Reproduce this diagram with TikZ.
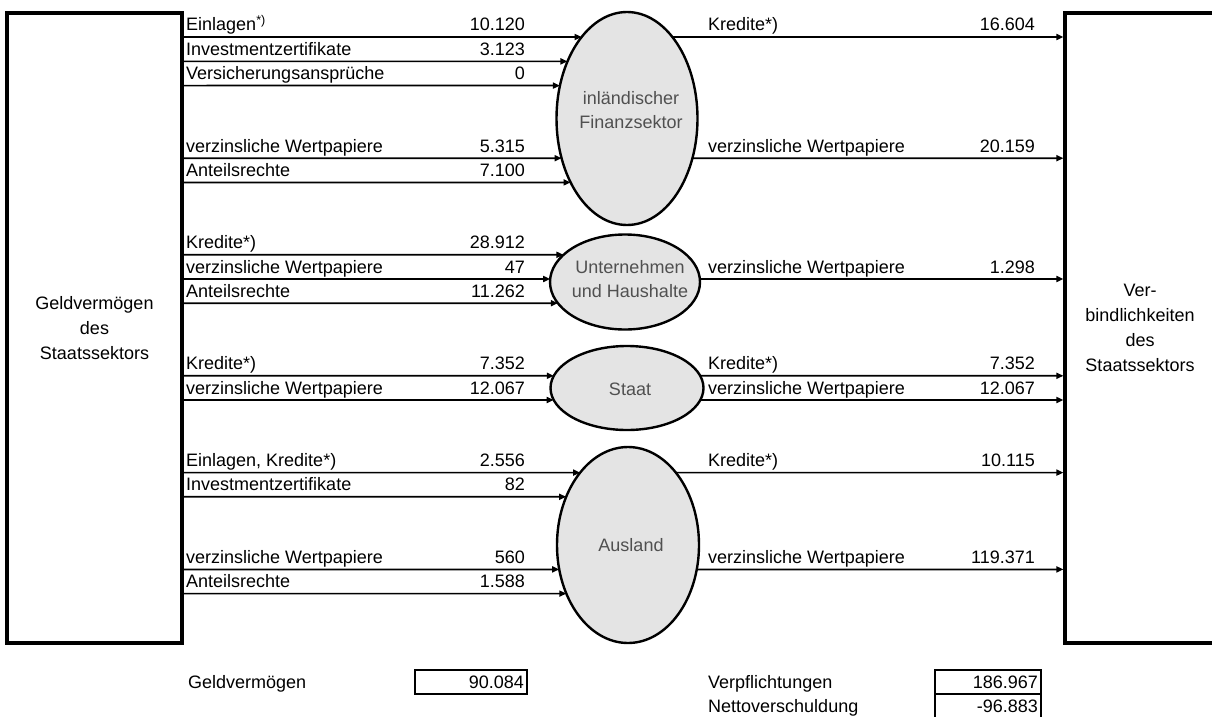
\documentclass[tikz,border=0pt]{standalone}
\usepackage{fontspec}
\setmainfont{Liberation Sans}
\usetikzlibrary{shapes.geometric}
\usetikzlibrary{arrows.meta}
\usetikzlibrary{intersections}

\definecolor{sectorfill}{RGB}{228,228,228}
\definecolor{sectortext}{RGB}{80,80,80}

\begin{document}
\begin{tikzpicture}[x=1pt,y=-1pt,
  flow/.style={line width=1.7pt,-{Triangle[length=7pt,width=6pt]}},
  flowtext/.style={font=\fontsize{18}{22}\selectfont,inner sep=0pt},
  sidebox/.style={draw,line width=3.2pt,minimum width=175pt,minimum height=630pt,align=center,font=\fontsize{18}{25}\selectfont},
  sector/.style={ellipse,draw,line width=2.4pt,fill=sectorfill,inner sep=0pt},
  sectorlabel/.style={text=sectortext,align=center,inner sep=0pt,font=\fontsize{18}{24}\selectfont},
  sumbox/.style={draw,line width=2.8pt,minimum height=24pt,inner ysep=0pt,inner xsep=3pt,align=right,font=\fontsize{18}{22}\selectfont}]
\useasboundingbox (0,0) rectangle (1212,717);
\clip (0,0) rectangle (1212,717);

\node[sidebox] (geld) at (94.5,328) {Geldvermögen\\des\\Staatssektors};
\node[sidebox,minimum width=150pt] (verb) at (1140,328) {Ver-\\bindlichkeiten\\des\\Staatssektors};

\node[sector,name path global=fin,minimum width=141pt,minimum height=213pt] (fin) at (627,118.5) {};
\node[sector,name path global=unt,minimum width=150pt,minimum height=95pt] (unt) at (625,282) {};
\node[sector,name path global=staat,minimum width=153pt,minimum height=84pt] (staat) at (627,388) {};
\node[sector,name path global=ausl,minimum width=142pt,minimum height=196pt] (ausl) at (628,545) {};
\node[sectorlabel] (fintext) at (631,110) {inländischer\\Finanzsektor};
\node[sectorlabel] (unttext) at (630,279) {Unternehmen\\und Haushalte};
\node[sectorlabel] (staattext) at (630,389) {Staat};
\node[sectorlabel] (ausltext) at (631,545) {Ausland};

\foreach \ly/\tgt/\txt/\val [count=\i] in {
  37/fin/{Einlagen\textsuperscript{*)}}/10.120,
  61.4/fin/Investmentzertifikate/3.123,
  85.6/fin/Versicherungsansprüche/0,
  158.2/fin/{verzinsliche Wertpapiere}/5.315,
  182.4/fin/Anteilsrechte/7.100,
  254.8/unt/Kredite*)/28.912,
  279/unt/{verzinsliche Wertpapiere}/47,
  303.2/unt/Anteilsrechte/11.262,
  375.8/staat/Kredite*)/7.352,
  400/staat/{verzinsliche Wertpapiere}/12.067,
  472.6/ausl/{Einlagen, Kredite*)}/2.556,
  496.8/ausl/Investmentzertifikate/82,
  569.4/ausl/{verzinsliche Wertpapiere}/560,
  593.6/ausl/Anteilsrechte/1.588}{
  \coordinate (in\i) at (geld.east |- 0,\ly);
  \path[name path=ray] (in\i) -- ++(600,0);
  \draw[flow,name intersections={of=ray and \tgt,sort by=ray}] (in\i) -- (intersection-1);
  \node[flowtext,anchor=base west] (inlbl\i) at (186,\ly-6) {\txt};
  \node[flowtext,anchor=base east] (inval\i) at (525,\ly-6) {\val};
}

\foreach \ly/\src/\txt/\val [count=\i] in {
  37/fin/Kredite*)/16.604,
  158.2/fin/{verzinsliche Wertpapiere}/20.159,
  279/unt/{verzinsliche Wertpapiere}/1.298,
  375.8/staat/Kredite*)/7.352,
  400/staat/{verzinsliche Wertpapiere}/12.067,
  472.6/ausl/Kredite*)/10.115,
  569.4/ausl/{verzinsliche Wertpapiere}/119.371}{
  \coordinate (out\i) at (verb.west |- 0,\ly);
  \path[name path=ray] (out\i) -- ++(-600,0);
  \draw[flow,name intersections={of=ray and \src,sort by=ray}] (intersection-1) -- (out\i);
  \node[flowtext,anchor=base west] (outlbl\i) at (708,\ly-6) {\txt};
  \node[flowtext,anchor=base east] (outval\i) at (1035,\ly-6) {\val};
}

\node[flowtext,anchor=base west] (gvlbl) at (188,688) {Geldvermögen};
\node[sumbox,text width=106pt] (gvval) at (471,682) {90.084};
\node[flowtext,anchor=base west] (vplbl) at (708,688) {Verpflichtungen};
\node[sumbox,text width=100pt] (vpval) at (988,682) {186.967};
\node[flowtext,anchor=base west] (nvlbl) at (708,712) {Nettoverschuldung};
\node[sumbox,text width=100pt] (nvval) at (988,706) {-96.883};

\end{tikzpicture}
\end{document}
